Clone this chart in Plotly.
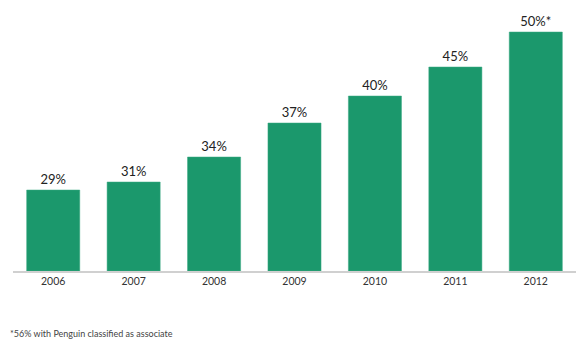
import plotly.graph_objects as go

years = ["2006", "2007", "2008", "2009", "2010", "2011", "2012"]
labels = ["29%", "31%", "34%", "37%", "40%", "45%", "50%*"]
# bar heights as drawn in the original (not proportional to labels)
bar_heights = [81, 89, 114, 148, 175, 204, 239]
footnote = "*56% with Penguin classified as associate"

fig = go.Figure(go.Bar(
    x=years, y=bar_heights, text=labels,
    textposition="outside", cliponaxis=False,
    textfont=dict(family="Lato", size=13, color="#222222"),
    marker=dict(color="#1b986c", line=dict(color="#3aa883", width=0.5)),
))

fig.update_layout(
    width=583, height=352,
    margin=dict(l=13, r=7, t=0, b=81),
    paper_bgcolor="white", plot_bgcolor="white",
    bargap=0.34, showlegend=False,
    font=dict(family="Lato"),
    xaxis=dict(showline=True, linecolor="#d0d0d0", linewidth=1.5,
               showgrid=False, ticks="", zeroline=False,
               tickfont=dict(family="Lato", size=10.5, color="#333333")),
    yaxis=dict(range=[0, 271], visible=False, showgrid=False, zeroline=False),
    annotations=[dict(text=footnote, x=8, y=333, xref="paper", yref="paper",
                      showarrow=False)],
)
# place footnote in pixel terms via paper coords
fig.layout.annotations[0].update(
    x=(8 - 13) / 563, y=(352 - 81 - 333) / 271, xanchor="left", yanchor="middle",
    font=dict(family="Lato", size=9, color="#444444"))

fig.write_html("out.html")
